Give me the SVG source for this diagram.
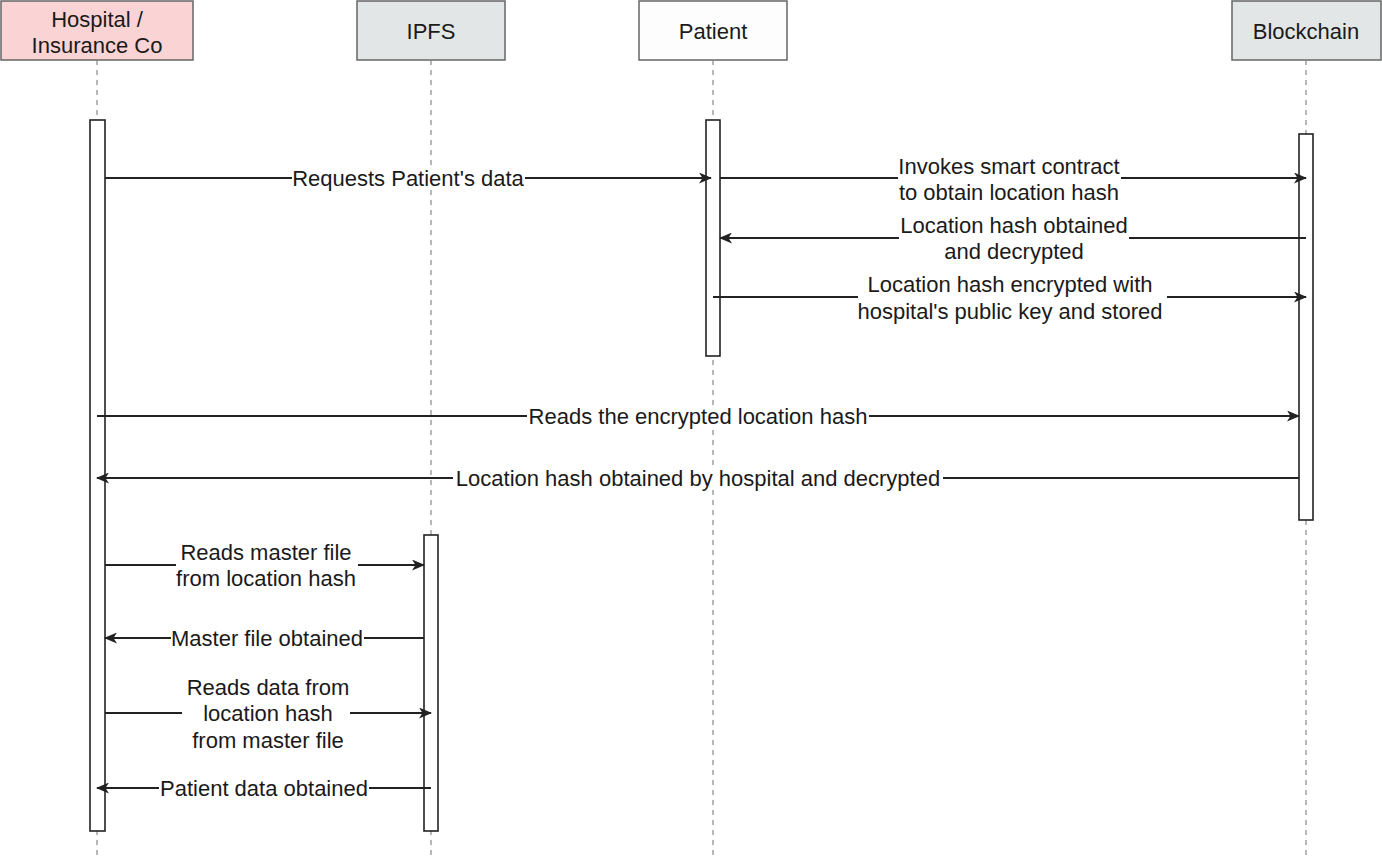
<svg xmlns="http://www.w3.org/2000/svg" width="1382" height="863" viewBox="0 0 1382 863">
<style>
.hdr{stroke:#666;stroke-width:1.5}
.life{stroke:#888;stroke-width:1.2;stroke-dasharray:5 5;fill:none}
.act{fill:#fff;stroke:#222;stroke-width:1.6}
.msg{stroke:#222;stroke-width:1.8;fill:none;marker-end:url(#arr)}
.bg{fill:#fff}
text{font-family:"Liberation Sans",Arial,sans-serif;font-size:22px;fill:#1a1a1a;text-anchor:middle}
</style>
<defs>
<marker id="arr" markerUnits="userSpaceOnUse" markerWidth="13" markerHeight="11" refX="12" refY="5.5" orient="auto">
<path d="M0,0 L13,5.5 L0,11 L3.5,5.5 z" fill="#222"/>
</marker>
</defs>
<rect width="1382" height="863" fill="#fff"/>

<g id="hospital">
<rect class="hdr" x="1" y="1" width="192" height="59" fill="#fad4d4"/>
<text x="97" y="27">Hospital /</text>
<text x="97" y="53">Insurance Co</text>
<line class="life" x1="97" y1="60" x2="97" y2="858"/>
<rect class="act" x="90" y="120" width="15" height="711"/>
</g>

<g id="ipfs">
<rect class="hdr" x="357" y="1" width="148" height="59" fill="#e3e6e6"/>
<text x="431" y="39">IPFS</text>
<line class="life" x1="431" y1="60" x2="431" y2="858"/>
<rect class="act" x="424" y="535" width="14" height="296"/>
</g>

<g id="patient">
<rect class="hdr" x="639" y="1" width="148" height="59" fill="#fdfdfd"/>
<text x="713" y="39">Patient</text>
<line class="life" x1="713" y1="60" x2="713" y2="858"/>
<rect class="act" x="706" y="120" width="14" height="236"/>
</g>

<g id="blockchain">
<rect class="hdr" x="1232" y="1" width="149" height="59" fill="#e3e6e6"/>
<text x="1306" y="39">Blockchain</text>
<line class="life" x1="1306" y1="60" x2="1306" y2="858"/>
<rect class="act" x="1299" y="134" width="14" height="386"/>
</g>

<g id="connectors">
<line class="msg" x1="105" y1="178" x2="711" y2="178"/>
<rect class="bg" x="292" y="167" width="233" height="22"/>
<text x="408" y="186">Requests Patient's data</text>

<line class="msg" x1="720" y1="178" x2="1306" y2="178"/>
<rect class="bg" x="898" y="155" width="223" height="50"/>
<text x="1009" y="174">Invokes smart contract</text>
<text x="1009" y="200">to obtain location hash</text>

<line class="msg" x1="1306" y1="238" x2="720" y2="238"/>
<rect class="bg" x="899" y="214" width="230" height="50"/>
<text x="1014" y="233">Location hash obtained</text>
<text x="1014" y="259">and decrypted</text>

<line class="msg" x1="713" y1="297" x2="1306" y2="297"/>
<rect class="bg" x="858" y="273" width="309" height="50"/>
<text x="1010" y="292">Location hash encrypted with</text>
<text x="1010" y="319">hospital's public key and stored</text>

<line class="msg" x1="97" y1="416" x2="1299" y2="416"/>
<rect class="bg" x="527" y="405" width="342" height="22"/>
<text x="698" y="424">Reads the encrypted location hash</text>

<line class="msg" x1="1299" y1="478" x2="97" y2="478"/>
<rect class="bg" x="453" y="467" width="490" height="22"/>
<text x="698" y="486">Location hash obtained by hospital and decrypted</text>

<line class="msg" x1="105" y1="565" x2="424" y2="565"/>
<rect class="bg" x="176" y="540" width="182" height="50"/>
<text x="266" y="560">Reads master file</text>
<text x="266" y="586">from location hash</text>

<line class="msg" x1="424" y1="638" x2="105" y2="638"/>
<rect class="bg" x="171" y="627" width="193" height="22"/>
<text x="267" y="646">Master file obtained</text>

<line class="msg" x1="105" y1="713" x2="431" y2="713"/>
<rect class="bg" x="182" y="675" width="168" height="77"/>
<text x="268" y="695">Reads data from</text>
<text x="268" y="721">location hash</text>
<text x="268" y="748">from master file</text>

<line class="msg" x1="431" y1="788" x2="97" y2="788"/>
<rect class="bg" x="159" y="777" width="210" height="22"/>
<text x="264" y="796">Patient data obtained</text>
</g>
</svg>
